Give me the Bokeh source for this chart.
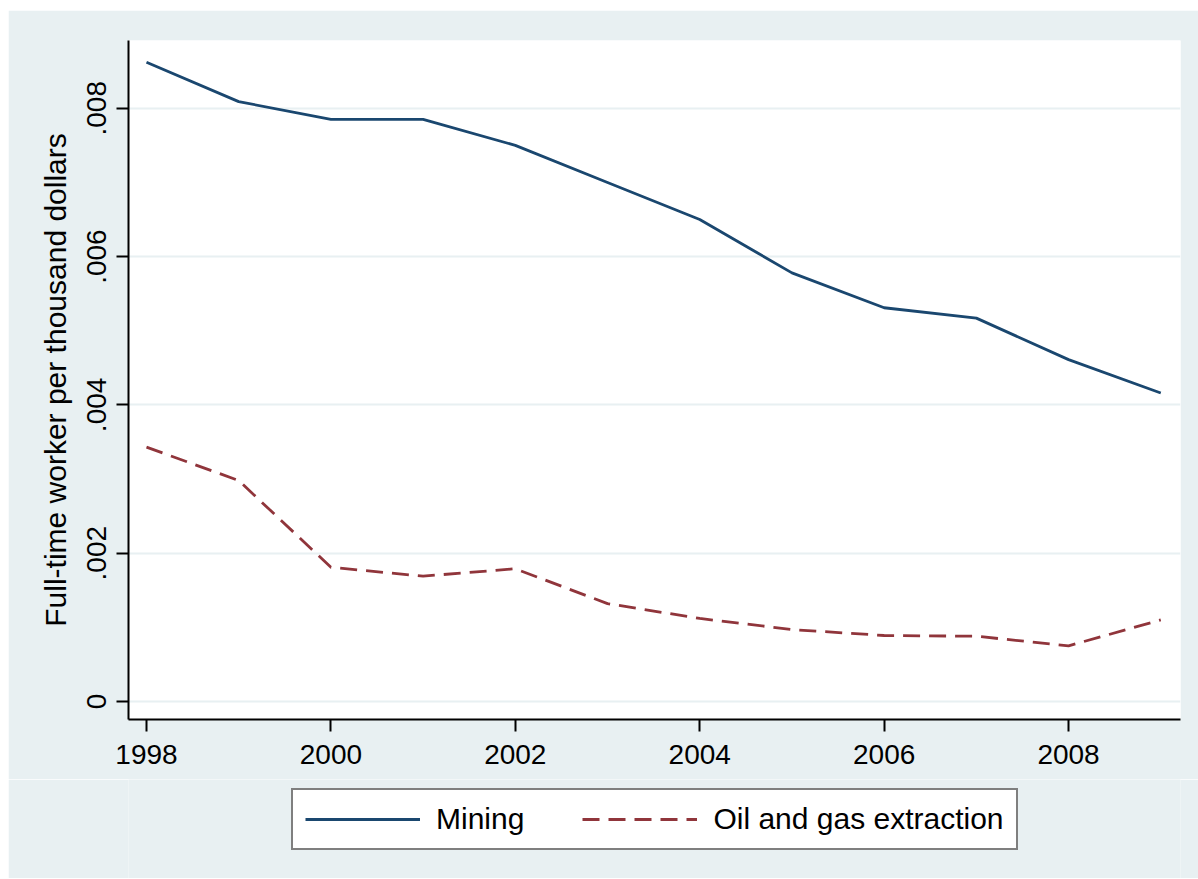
from bokeh.plotting import figure
from bokeh.models import Range1d, FixedTicker, Legend, LegendItem, Spacer
from bokeh.layouts import row, column
from bokeh.embed import file_html
from bokeh.resources import INLINE

years = [1998, 1999, 2000, 2001, 2002, 2003, 2004, 2005, 2006, 2007, 2008, 2009]
mining = [0.00862, 0.00809, 0.00785, 0.00785, 0.00750, 0.00700, 0.00650, 0.00578, 0.00531, 0.00517, 0.00461, 0.00416]
oil_gas = [0.00343, 0.00298, 0.00181, 0.00169, 0.00179, 0.00132, 0.00112, 0.00097, 0.00089, 0.00088, 0.00075, 0.00110]

x_ticks = [1998, 2000, 2002, 2004, 2006, 2008]
y_ticks = [0, 0.002, 0.004, 0.006, 0.008]
y_tick_labels = ["0", ".002", ".004", ".006", ".008"]
y_title = "Full-time worker per thousand dollars"
series_names = ["Mining", "Oil and gas extraction"]

BG = "#E8F0F2"
FONT = "Liberation Sans"
MINING_STYLE = dict(line_color="#1A476F", line_width=2.8)
OIL_STYLE = dict(line_color="#90353B", line_width=2.8, line_dash="17 9")

x_rng = Range1d(1997.805, 2009.214)

p = figure(width=1190, height=769, output_backend="svg", toolbar_location=None,
           x_range=x_rng, y_range=Range1d(-0.000243, 0.008914),
           min_border_left=120, min_border_right=18, min_border_top=30, min_border_bottom=60)
p.border_fill_color = BG
p.background_fill_color = "white"
p.outline_line_color = None

p.line(years, mining, **MINING_STYLE)
p.line(years, oil_gas, **OIL_STYLE)

for ax in (p.xaxis[0], p.yaxis[0]):
    ax.axis_line_color = "black"
    ax.axis_line_width = 2
    ax.major_tick_line_color = "black"
    ax.major_tick_line_width = 2
    ax.major_tick_out = 12
    ax.major_tick_in = 0
    ax.minor_tick_line_color = None
    ax.major_label_text_font = FONT
    ax.major_label_text_font_size = "28px"
    ax.major_label_text_color = "black"

p.xaxis.ticker = FixedTicker(ticks=x_ticks)
p.xaxis.major_label_standoff = 13

p.yaxis.ticker = FixedTicker(ticks=y_ticks)
p.yaxis.major_label_overrides = {t: l for t, l in zip(y_ticks, y_tick_labels)}
p.yaxis.major_label_orientation = "vertical"
p.yaxis.major_label_standoff = 10
p.yaxis.axis_label = y_title
p.yaxis.axis_label_text_font = FONT
p.yaxis.axis_label_text_font_size = "30px"
p.yaxis.axis_label_text_font_style = "normal"
p.yaxis.axis_label_text_color = "black"
p.yaxis.axis_label_standoff = 13

p.xgrid.grid_line_color = None
p.ygrid.grid_line_color = BG
p.ygrid.grid_line_width = 2
p.ygrid.ticker = FixedTicker(ticks=y_ticks)

# legend strip below the plot (same background); its lines lie outside its view
p2 = figure(width=1190, height=99, output_backend="svg", toolbar_location=None,
            x_range=x_rng, y_range=Range1d(1, 2),
            x_axis_type=None, y_axis_type=None,
            min_border_left=120, min_border_right=18, min_border_top=0, min_border_bottom=0)
p2.border_fill_color = BG
p2.background_fill_color = BG
p2.outline_line_color = None
l1 = p2.line(years, mining, **MINING_STYLE)
l2 = p2.line(years, oil_gas, **OIL_STYLE)

legend = Legend(items=[LegendItem(label=series_names[0], renderers=[l1]),
                       LegendItem(label=series_names[1], renderers=[l2])],
                orientation="horizontal", location=(163, 28),
                glyph_width=115, glyph_height=30, label_standoff=16, spacing=58,
                padding=12, margin=0,
                label_text_font=FONT, label_text_font_size="30px", label_text_color="black",
                border_line_color="black", border_line_width=2,
                background_fill_color="white", background_fill_alpha=1.0)
p2.add_layout(legend, "center")

layout = row(Spacer(width=8), column(Spacer(height=10), p, p2, spacing=0), spacing=0)
open("out.html", "w").write(file_html(layout, INLINE))
